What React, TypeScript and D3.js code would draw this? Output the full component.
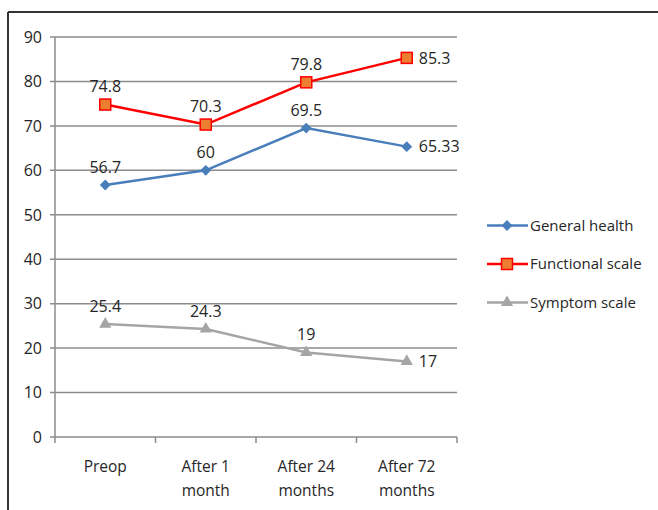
import React from "react";
import * as d3 from "d3";

const categories = [["Preop"], ["After 1", "month"], ["After 24", "months"], ["After 72", "months"]];
const generalHealth = [56.7, 60, 69.5, 65.33];
const functionalScale = [74.8, 70.3, 79.8, 85.3];
const symptomScale = [25.4, 24.3, 19, 17];
const yTicks = [0, 10, 20, 30, 40, 50, 60, 70, 80, 90];
const seriesNames = ["General health", "Functional scale", "Symptom scale"];
const labelPos = [
  ["top", "top", "top", "right"],
  ["top", "top", "top", "right"],
  ["top", "top", "top", "right"],
];

const FONT = "'Open Sans', sans-serif";

export default function App() {
  const W = 658, H = 510;
  const left = 55, right = 457, top = 37, bottom = 437;
  const x = d3.scaleBand<number>().domain([0, 1, 2, 3]).range([left, right]);
  const y = d3.scaleLinear().domain([0, 90]).range([bottom, top]);
  const cx = (i: number) => (x(i) as number) + x.bandwidth() / 2;
  const line = d3.line<number>().x((_, i) => cx(i)).y((d) => y(d));

  const series = [
    { name: seriesNames[0], data: generalHealth, color: "#4a7ebb", marker: "diamond" },
    { name: seriesNames[1], data: functionalScale, color: "#ff0000", marker: "square" },
    { name: seriesNames[2], data: symptomScale, color: "#a5a5a5", marker: "triangle" },
  ];

  const marker = (m: string, px: number, py: number, color: string, key: string) => {
    if (m === "diamond") {
      const p = d3.symbol(d3.symbolDiamond2, 75)();
      return <path key={key} d={p as string} transform={`translate(${px},${py})`} fill={color} />;
    }
    if (m === "square") {
      return <rect key={key} x={px - 5.5} y={py - 5.5} width={11} height={11} fill="#ed7d31" stroke="#ff0000" strokeWidth={1.5} />;
    }
    const p = d3.symbol(d3.symbolTriangle, 65)();
    return <path key={key} d={p as string} transform={`translate(${px},${py})`} fill={color} />;
  };

  return (
    <svg width={W} height={H} style={{ position: "absolute", left: 0, top: 0 }}>
      <rect x={0} y={0} width={W} height={H} fill="#fff" />
      <line x1={8} y1={12} x2={W} y2={12} stroke="#333" strokeWidth={2} />
      <line x1={8} y1={12} x2={8} y2={H} stroke="#333" strokeWidth={2} />
      {yTicks.map((t) => (
        <g key={t}>
          <line x1={left - 5} x2={right} y1={y(t)} y2={y(t)} stroke="#8c8c8c" strokeWidth={1.5} />
          <text x={42} y={y(t)} dy="0.36em" textAnchor="end" fontFamily={FONT} fontSize={16} fill="#262626">{t}</text>
        </g>
      ))}
      <line x1={left} x2={left} y1={top} y2={bottom + 6} stroke="#8c8c8c" strokeWidth={1.5} />
      {[0, 1, 2, 3].map((i) => (
        <line key={i} x1={(x(i) as number) + x.bandwidth()} x2={(x(i) as number) + x.bandwidth()} y1={bottom} y2={bottom + 6} stroke="#8c8c8c" strokeWidth={1.5} />
      ))}
      {categories.map((c, i) => (
        <text key={i} x={cx(i)} y={472} textAnchor="middle" fontFamily={FONT} fontSize={15.5} fill="#262626">
          {c.map((s, j) => (
            <tspan key={j} x={cx(i)} dy={j === 0 ? 0 : 24}>{s}</tspan>
          ))}
        </text>
      ))}
      {series.map((s, si) => (
        <g key={s.name}>
          <path d={line(s.data) as string} fill="none" stroke={s.color} strokeWidth={2.5} />
          {s.data.map((v, i) => marker(s.marker, cx(i), y(v), s.color, `${si}-${i}`))}
          {s.data.map((v, i) => {
            const pos = labelPos[si][i];
            const tx = pos === "right" ? cx(i) + 12 : cx(i);
            const ty = pos === "right" ? y(v) : y(v) - 18;
            return (
              <text key={i} x={tx} y={ty} dy="0.36em" textAnchor={pos === "right" ? "start" : "middle"} fontFamily={FONT} fontSize={16} fill="#262626">{String(v)}</text>
            );
          })}
        </g>
      ))}
      {series.map((s, si) => {
        const ly = 225.5 + si * 38.5;
        return (
          <g key={s.name}>
            <line x1={487} x2={528} y1={ly} y2={ly} stroke={s.color} strokeWidth={2.5} />
            {marker(s.marker, 507, ly, s.color, `l${si}`)}
            <text x={530} y={ly} dy="0.36em" fontFamily={FONT} fontSize={15} fill="#262626" textLength={undefined}>{s.name}</text>
          </g>
        );
      })}
    </svg>
  );
}
